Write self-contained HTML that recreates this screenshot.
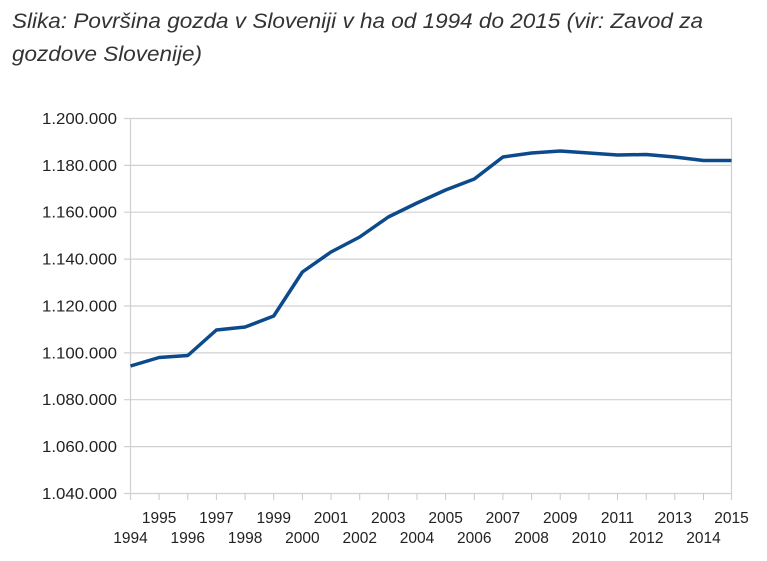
<!DOCTYPE html>
<html><head><meta charset="utf-8"><style>
html,body{margin:0;padding:0;background:#fff;}
svg{display:block;font-family:"Liberation Sans",Arial,sans-serif;}
</style></head><body>
<svg width="767" height="561" xmlns="http://www.w3.org/2000/svg">
<text x="12" y="28" font-size="21" font-style="italic" fill="#333" textLength="691" lengthAdjust="spacingAndGlyphs">Slika: Površina gozda v Sloveniji v ha od 1994 do 2015 (vir: Zavod za</text>
<text x="12" y="61" font-size="21" font-style="italic" fill="#333" textLength="190" lengthAdjust="spacingAndGlyphs">gozdove Slovenije)</text>
<g stroke="#d0d0d0" stroke-width="1.2">
<line x1="124" y1="118.5" x2="732" y2="118.5"/>
<line x1="124" y1="165.4" x2="732" y2="165.4"/>
<line x1="124" y1="212.2" x2="732" y2="212.2"/>
<line x1="124" y1="259.1" x2="732" y2="259.1"/>
<line x1="124" y1="306" x2="732" y2="306"/>
<line x1="124" y1="352.9" x2="732" y2="352.9"/>
<line x1="124" y1="399.7" x2="732" y2="399.7"/>
<line x1="124" y1="446.6" x2="732" y2="446.6"/>
<line x1="124" y1="493.5" x2="732" y2="493.5"/>
<line x1="130.5" y1="118" x2="130.5" y2="500"/>
<line x1="731.5" y1="118" x2="731.5" y2="500"/>
</g>
<g stroke="#c8c8c8" stroke-width="1">
<line x1="159.1" y1="493" x2="159.1" y2="500"/><line x1="187.8" y1="493" x2="187.8" y2="500"/><line x1="216.4" y1="493" x2="216.4" y2="500"/><line x1="245.1" y1="493" x2="245.1" y2="500"/><line x1="273.7" y1="493" x2="273.7" y2="500"/><line x1="302.4" y1="493" x2="302.4" y2="500"/><line x1="331" y1="493" x2="331" y2="500"/><line x1="359.7" y1="493" x2="359.7" y2="500"/><line x1="388.3" y1="493" x2="388.3" y2="500"/><line x1="417" y1="493" x2="417" y2="500"/><line x1="445.6" y1="493" x2="445.6" y2="500"/><line x1="474.3" y1="493" x2="474.3" y2="500"/><line x1="502.9" y1="493" x2="502.9" y2="500"/><line x1="531.6" y1="493" x2="531.6" y2="500"/><line x1="560.2" y1="493" x2="560.2" y2="500"/><line x1="588.9" y1="493" x2="588.9" y2="500"/><line x1="617.5" y1="493" x2="617.5" y2="500"/><line x1="646.2" y1="493" x2="646.2" y2="500"/><line x1="674.8" y1="493" x2="674.8" y2="500"/><line x1="703.5" y1="493" x2="703.5" y2="500"/>
</g>
<g font-size="15.5" fill="#222" text-anchor="end">
<text x="117" y="124" textLength="75" lengthAdjust="spacingAndGlyphs">1.200.000</text><text x="117" y="170.9" textLength="75" lengthAdjust="spacingAndGlyphs">1.180.000</text><text x="117" y="217.7" textLength="75" lengthAdjust="spacingAndGlyphs">1.160.000</text><text x="117" y="264.6" textLength="75" lengthAdjust="spacingAndGlyphs">1.140.000</text><text x="117" y="311.5" textLength="75" lengthAdjust="spacingAndGlyphs">1.120.000</text><text x="117" y="358.4" textLength="75" lengthAdjust="spacingAndGlyphs">1.100.000</text><text x="117" y="405.2" textLength="75" lengthAdjust="spacingAndGlyphs">1.080.000</text><text x="117" y="452.1" textLength="75" lengthAdjust="spacingAndGlyphs">1.060.000</text><text x="117" y="499" textLength="75" lengthAdjust="spacingAndGlyphs">1.040.000</text>
</g>
<g font-size="15.5" fill="#222" text-anchor="middle">
<text x="159.1" y="523">1995</text><text x="216.4" y="523">1997</text><text x="273.7" y="523">1999</text><text x="331" y="523">2001</text><text x="388.3" y="523">2003</text><text x="445.6" y="523">2005</text><text x="502.9" y="523">2007</text><text x="560.2" y="523">2009</text><text x="617.5" y="523">2011</text><text x="674.8" y="523">2013</text><text x="731.5" y="523">2015</text>
<text x="130.5" y="543">1994</text><text x="187.8" y="543">1996</text><text x="245.1" y="543">1998</text><text x="302.4" y="543">2000</text><text x="359.7" y="543">2002</text><text x="417" y="543">2004</text><text x="474.3" y="543">2006</text><text x="531.6" y="543">2008</text><text x="588.9" y="543">2010</text><text x="646.2" y="543">2012</text><text x="703.5" y="543">2014</text>
</g>
<polyline fill="none" stroke="#0c4a8c" stroke-width="3.5" stroke-linejoin="round" points="130.5,366 159.1,357.5 187.8,355.5 216.4,330 245.1,327 273.7,316 302.4,272 331,252 359.7,237 388.3,217 417,203 445.6,190 474.3,179 502.9,157 531.6,153 560.2,151 588.9,153 617.5,155 646.2,154.5 674.8,157 703.5,160.5 731.5,160.5"/>
</svg>
</body></html>
